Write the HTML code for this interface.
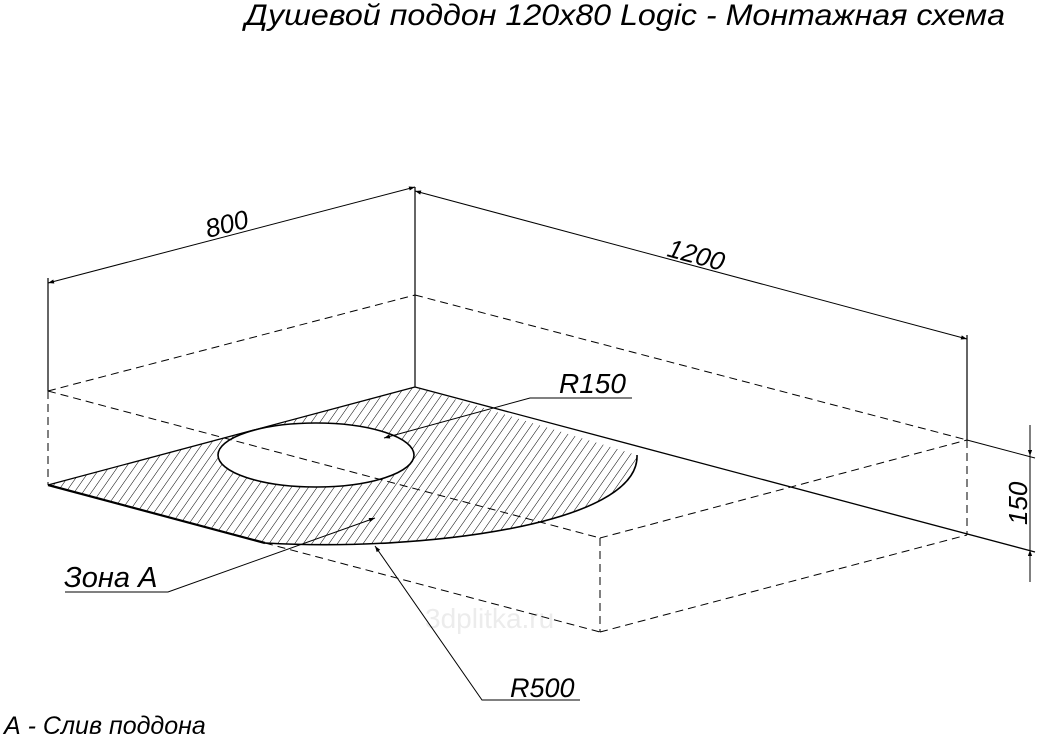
<!DOCTYPE html>
<html><head><meta charset="utf-8"><style>
body{margin:0;background:#fff;width:1038px;height:739px;overflow:hidden}
svg{display:block}
text{font-family:"Liberation Sans","DejaVu Sans",sans-serif;font-style:italic}
</style></head><body>
<svg width="1038" height="739" viewBox="0 0 1038 739">
<defs>
<pattern id="h" width="7" height="7" patternUnits="userSpaceOnUse" patternTransform="rotate(35)">
<line x1="0" y1="0" x2="0" y2="7" stroke="#000" stroke-width="1"/>
</pattern>
<marker id="a" viewBox="0 0 10 10" refX="10" refY="5" markerWidth="14" markerHeight="6" orient="auto-start-reverse" markerUnits="userSpaceOnUse"><path d="M0,1.5 L10,5 L0,8.5z" fill="#000"/></marker>
<mask id="m"><rect width="1038" height="739" fill="#fff"/><ellipse cx="316" cy="455" rx="98" ry="32" fill="#000"/></mask>
</defs>
<text x="245" y="25" font-size="30" textLength="760" lengthAdjust="spacingAndGlyphs" style="fill:#000">Душевой поддон 120x80 Logic - Монтажная схема</text>
<text x="425" y="628" font-size="28" style="font-style:normal;fill:#ececec">3dplitka.ru</text>
<path d="M415,387 L48,485 L265,543 C420,552 640,525 637,455 Z" fill="url(#h)" mask="url(#m)"/>
<path d="M265,543 C420,552 640,525 637,455" fill="none" stroke="#000" stroke-width="1.6"/>
<ellipse cx="316" cy="455" rx="98" ry="32" fill="none" stroke="#000" stroke-width="1.6"/>
<g stroke="#000" fill="none">
<line x1="48" y1="485" x2="265" y2="543" stroke-width="2.2"/>
<line x1="415" y1="387" x2="48" y2="485" stroke-width="1.3"/>
<line x1="415" y1="387" x2="1035" y2="552" stroke-width="1.3"/>
<line x1="967" y1="440" x2="1035" y2="458" stroke-width="1"/>
<line x1="415" y1="187" x2="415" y2="387" stroke-width="1.2"/>
<line x1="48" y1="278" x2="48" y2="391" stroke-width="1.2"/>
<line x1="967" y1="335" x2="967" y2="440" stroke-width="1.2"/>
<g stroke-dasharray="8,5" stroke-width="1">
<line x1="48" y1="391" x2="415" y2="295"/>
<line x1="415" y1="295" x2="967" y2="440"/>
<line x1="48" y1="391" x2="600" y2="538"/>
<line x1="600" y1="538" x2="967" y2="440"/>
<line x1="48" y1="391" x2="48" y2="485"/>
<line x1="265" y1="543" x2="600" y2="632"/>
<line x1="600" y1="632" x2="967" y2="535"/>
<line x1="600" y1="538" x2="600" y2="632"/>
<line x1="967" y1="440" x2="967" y2="535"/>
</g>
<line x1="48" y1="283" x2="415" y2="187" marker-start="url(#a)" marker-end="url(#a)"/>
<line x1="415" y1="191" x2="967" y2="339" marker-start="url(#a)" marker-end="url(#a)"/>
<line x1="1030" y1="425" x2="1030" y2="456" marker-end="url(#a)"/>
<line x1="1030" y1="456" x2="1030" y2="550"/>
<line x1="1030" y1="582" x2="1030" y2="550" marker-end="url(#a)"/>
<polyline points="632,398 530,398 384,438" marker-end="url(#a)"/>
<polyline points="65,592 168,592 375,518" marker-end="url(#a)"/>
<polyline points="580,700 482,700 375,546" marker-end="url(#a)"/>
</g>
<g style="fill:#000">
<text font-size="26" transform="translate(208,238) rotate(-14.6)">800</text>
<text font-size="26" transform="translate(666,256) rotate(15)">1200</text>
<text font-size="26" transform="translate(1027,525) rotate(-90)">150</text>
<text x="559" y="393" font-size="28">R150</text>
<text x="64" y="587" font-size="29">Зона А</text>
<text x="510" y="697" font-size="27">R500</text>
<text x="4" y="734" font-size="25">А - Слив поддона</text>
</g>
</svg>
</body></html>
